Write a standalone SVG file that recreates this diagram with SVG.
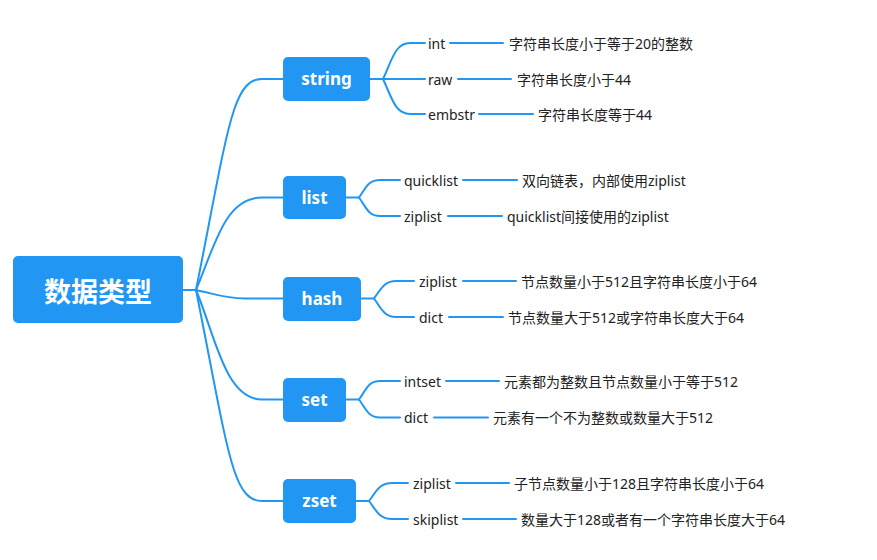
<svg xmlns="http://www.w3.org/2000/svg" width="877" height="560" viewBox="0 0 877 560">
<style>
.node{fill:#2196F3}
.c{fill:none;stroke:#2196F3;stroke-width:2;stroke-linecap:round}
.root{font-family:"Noto Sans CJK SC","Noto Sans",sans-serif;font-size:27px;font-weight:bold;fill:#fff;text-anchor:middle;dominant-baseline:central}
.lbl{font-family:"Noto Sans","Noto Sans CJK SC",sans-serif;font-size:17px;font-weight:bold;fill:#fff;text-anchor:middle;dominant-baseline:central}
.t{font-family:"Noto Sans","Noto Sans CJK SC",sans-serif;font-size:14px;fill:#222;dominant-baseline:central}
</style>
<rect width="877" height="560" fill="#fff"/>
<g id="connectors">
<path class="c" d="M183,290 L196,290"/>
<path class="c" d="M196,290 C228,130 232,79 262,79 L283,79"/>
<path class="c" d="M196,290 C215,245 225,197.5 262,197.5 L283,197.5"/>
<path class="c" d="M196,290 C215,294 225,298.5 245,298.5 L283,298.5"/>
<path class="c" d="M196,290 C215,335 225,399.5 262,399.5 L283,399.5"/>
<path class="c" d="M196,290 C228,450 232,501 262,501 L283,501"/>
<!-- string -->
<path class="c" d="M370,79 L383,79"/>
<path class="c" d="M383,79 C392,60 395,43 410,43 L425,43"/>
<path class="c" d="M383,79 L425,79"/>
<path class="c" d="M383,79 C392,98 395,114 410,114 L425,114"/>
<path class="c" d="M450,43 L503,43"/>
<path class="c" d="M458,79 L511,79"/>
<path class="c" d="M479,114 L533,114"/>
<!-- list -->
<path class="c" d="M346,197.5 L359,197.5"/>
<path class="c" d="M359,197.5 C366,188 368,180 380,180 L400,180"/>
<path class="c" d="M359,197.5 C366,207 368,216 380,216 L400,216"/>
<path class="c" d="M463,180 L517,180"/>
<path class="c" d="M448,216 L502,216"/>
<!-- hash -->
<path class="c" d="M361,298.5 L374,298.5"/>
<path class="c" d="M374,298.5 C381,289 384,281 396,281 L414,281"/>
<path class="c" d="M374,298.5 C381,308 384,317 396,317 L414,317"/>
<path class="c" d="M463,281 L516,281"/>
<path class="c" d="M449,317 L503,317"/>
<!-- set -->
<path class="c" d="M346,399.5 L359,399.5"/>
<path class="c" d="M359,399.5 C366,390 368,381 380,381 L400,381"/>
<path class="c" d="M359,399.5 C366,409 368,417.5 380,417.5 L400,417.5"/>
<path class="c" d="M446,381 L499,381"/>
<path class="c" d="M434,417.5 L488,417.5"/>
<!-- zset -->
<path class="c" d="M356,501 L369,501"/>
<path class="c" d="M369,501 C376,492 379,483 392,483 L408,483"/>
<path class="c" d="M369,501 C376,510 379,519 392,519 L408,519"/>
<path class="c" d="M456,483 L509,483"/>
<path class="c" d="M463,519 L516,519"/>
</g>
<g id="root"><rect class="node" x="13" y="256" width="170" height="67" rx="5"/><text class="root" x="98" y="290">数据类型</text></g>
<g id="string"><rect class="node" x="283" y="57" width="87" height="44" rx="5"/><text class="lbl" x="326.5" y="78">string</text></g>
<g id="list"><rect class="node" x="283" y="176" width="63" height="43" rx="5"/><text class="lbl" x="314.5" y="197">list</text></g>
<g id="hash"><rect class="node" x="283" y="277" width="78" height="44" rx="5"/><text class="lbl" x="322" y="298">hash</text></g>
<g id="set"><rect class="node" x="283" y="378" width="63" height="44" rx="5"/><text class="lbl" x="314.5" y="399">set</text></g>
<g id="zset"><rect class="node" x="283" y="479" width="73" height="44" rx="5"/><text class="lbl" x="319.5" y="500">zset</text></g>
<g id="string-int"><text class="t" x="428" y="43">int</text></g>
<g id="string-int-d"><text class="t" x="509" y="43">字符串长度小于等于20的整数</text></g>
<g id="string-raw"><text class="t" x="428" y="79">raw</text></g>
<g id="string-raw-d"><text class="t" x="517" y="79">字符串长度小于44</text></g>
<g id="string-embstr"><text class="t" x="428" y="114">embstr</text></g>
<g id="string-embstr-d"><text class="t" x="538" y="114">字符串长度等于44</text></g>
<g id="list-quicklist"><text class="t" x="404" y="180">quicklist</text></g>
<g id="list-quicklist-d"><text class="t" x="522" y="180">双向链表，内部使用ziplist</text></g>
<g id="list-ziplist"><text class="t" x="404" y="216">ziplist</text></g>
<g id="list-ziplist-d"><text class="t" x="507" y="216">quicklist间接使用的ziplist</text></g>
<g id="hash-ziplist"><text class="t" x="419" y="281">ziplist</text></g>
<g id="hash-ziplist-d"><text class="t" x="521" y="281">节点数量小于512且字符串长度小于64</text></g>
<g id="hash-dict"><text class="t" x="419" y="317">dict</text></g>
<g id="hash-dict-d"><text class="t" x="508" y="317">节点数量大于512或字符串长度大于64</text></g>
<g id="set-intset"><text class="t" x="404" y="381">intset</text></g>
<g id="set-intset-d"><text class="t" x="504" y="381">元素都为整数且节点数量小于等于512</text></g>
<g id="set-dict"><text class="t" x="404" y="417.5">dict</text></g>
<g id="set-dict-d"><text class="t" x="493" y="417.5">元素有一个不为整数或数量大于512</text></g>
<g id="zset-ziplist"><text class="t" x="413" y="483">ziplist</text></g>
<g id="zset-ziplist-d"><text class="t" x="514" y="483">子节点数量小于128且字符串长度小于64</text></g>
<g id="zset-skiplist"><text class="t" x="413" y="519">skiplist</text></g>
<g id="zset-skiplist-d"><text class="t" x="521" y="519">数量大于128或者有一个字符串长度大于64</text></g>
</svg>
